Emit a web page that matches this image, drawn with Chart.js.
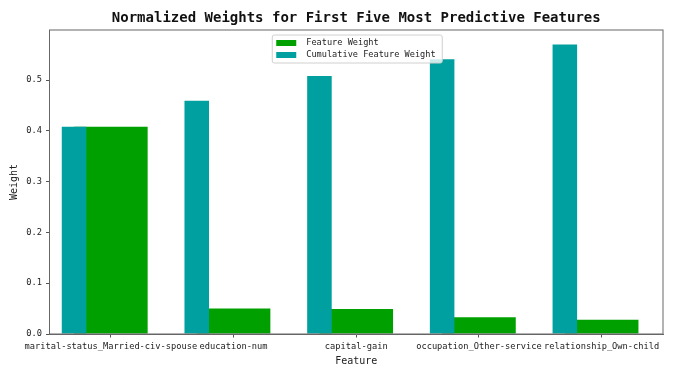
<!DOCTYPE html>
<html lang="en">
<head>
    <meta charset="UTF-8">
    <title>Normalized Weights</title>
    <script src="https://cdn.jsdelivr.net/npm/chart.js"></script>
    <style>
        body { margin: 0; background: #fff; }
    </style>
</head>
<body>
    <canvas id="weightChart" width="692" height="367"></canvas>
    <script>
        // Data
        const features = ['marital-status_Married-civ-spouse', 'education-num', 'capital-gain', 'occupation_Other-service', 'relationship_Own-child'];
        const featureWeight = [0.408, 0.050, 0.049, 0.033, 0.028];
        const cumulativeWeight = [0.408, 0.459, 0.508, 0.541, 0.570];
        const yTicks = [0.0, 0.1, 0.2, 0.3, 0.4, 0.5];

        // cumulative bars sit 0.3 to the left of each category, like np.arange(5) - 0.3
        const cumX = features.map((f, i) => i - 0.3);

        const FONT = '"DejaVu Sans Mono", monospace';

        // matplotlib-like frame + legend box inside the plot
        const mplLegend = {
            id: 'mplLegend',
            afterDraw(chart) {
                const ctx = chart.ctx;
                const a = chart.chartArea;
                ctx.save();
                ctx.strokeStyle = '#666';
                ctx.lineWidth = 1;
                ctx.strokeRect(a.left, a.top, a.right - a.left, a.bottom - a.top);

                const w = 170, h = 28;
                const x = (a.left + a.right) / 2 - w / 2 + 1;
                const y = a.top + 5;
                ctx.fillStyle = 'rgba(255,255,255,0.8)';
                ctx.strokeStyle = '#d0d0d0';
                ctx.beginPath();
                ctx.roundRect(x, y, w, h, 2);
                ctx.fill();
                ctx.stroke();

                ctx.font = '8.6px ' + FONT;
                ctx.textBaseline = 'middle';
                chart.data.datasets.forEach((ds, i) => {
                    const cy = y + 8 + i * 12;
                    ctx.fillStyle = ds.backgroundColor;
                    ctx.fillRect(x + 4, cy - 3, 20, 6);
                    ctx.fillStyle = '#222';
                    ctx.fillText(ds.label, x + 34, cy);
                });
                ctx.restore();
            }
        };

        new Chart(document.getElementById('weightChart'), {
            type: 'bar',
            data: {
                labels: features,
                datasets: [{
                    label: 'Feature Weight',
                    data: featureWeight,
                    backgroundColor: '#00A000',
                    xAxisID: 'x',
                    grouped: false,
                    barPercentage: 0.6,
                    categoryPercentage: 1,
                    order: 1
                }, {
                    label: 'Cumulative Feature Weight',
                    data: cumulativeWeight.map((v, i) => ({ x: cumX[i], y: v })),
                    backgroundColor: '#00A0A0',
                    xAxisID: 'x2',
                    grouped: false,
                    barPercentage: 0.2,
                    categoryPercentage: 1,
                    order: 0
                }]
            },
            options: {
                responsive: false,
                animation: false,
                devicePixelRatio: 1,
                layout: { padding: { left: 0, right: 29, top: 0, bottom: 0 } },
                plugins: {
                    legend: { display: false },
                    tooltip: { enabled: false },
                    title: {
                        display: true,
                        fullSize: false,
                        text: 'Normalized Weights for First Five Most Predictive Features',
                        color: '#111',
                        font: { family: FONT, size: 14, weight: 'bold', lineHeight: 1.2 },
                        padding: { top: 10, bottom: 3.2 }
                    }
                },
                scales: {
                    x: {
                        type: 'category',
                        offset: true,
                        grid: { drawOnChartArea: false, tickLength: 3.5, color: '#555', offset: false },
                        border: { display: true, color: '#666' },
                        ticks: {
                            color: '#222',
                            font: { family: FONT, size: 8.7 },
                            maxRotation: 0,
                            minRotation: 0,
                            autoSkip: false,
                            padding: 4.5
                        },
                        title: {
                            display: true,
                            text: 'Feature',
                            color: '#222',
                            font: { family: FONT, size: 10 },
                            padding: { top: 0, bottom: 0 }
                        },
                        afterFit(s) { s.height = 33; }
                    },
                    x2: {
                        type: 'linear',
                        display: false,
                        offset: false,
                        min: -0.5,
                        max: 4.5,
                        afterBuildTicks(s) { s.ticks = cumX.map(v => ({ value: v })); }
                    },
                    y: {
                        min: 0,
                        max: 0.5985,
                        grid: { drawOnChartArea: false, tickLength: 3.5, color: '#555' },
                        border: { display: true, color: '#666' },
                        ticks: {
                            stepSize: 0.1,
                            includeBounds: false,
                            color: '#222',
                            font: { family: FONT, size: 8.7 },
                            padding: 4,
                            callback: v => v.toFixed(1)
                        },
                        afterBuildTicks(s) { s.ticks = yTicks.map(v => ({ value: v })); },
                        title: {
                            display: true,
                            text: 'Weight',
                            color: '#222',
                            font: { family: FONT, size: 10 },
                            padding: { top: 8, bottom: 0 }
                        },
                        afterFit(s) { s.width = 49.5; }
                    }
                }
            },
            plugins: [mplLegend]
        });
    </script>
</body>
</html>
